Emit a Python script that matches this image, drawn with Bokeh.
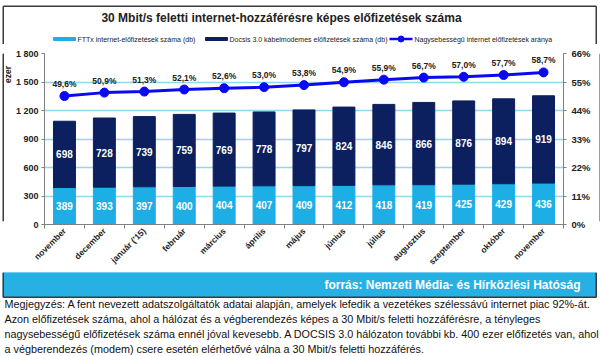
import math
from bokeh.plotting import figure
from bokeh.layouts import column, row
from bokeh.models import Range1d, LinearAxis, FixedTicker, ColumnDataSource
from bokeh.core.properties import value
from bokeh.embed import file_html
from bokeh.resources import INLINE

categories = ["november", "december", "január ('15)", "február", "március", "április",
              "május", "június", "július", "augusztus", "szeptember", "október", "november"]
fttx = [389, 393, 397, 400, 404, 407, 409, 412, 418, 419, 425, 429, 436]
docsis = [698, 728, 739, 759, 769, 778, 797, 824, 846, 866, 876, 894, 919]
ratio = [49.6, 50.9, 51.3, 52.1, 52.6, 53.0, 53.8, 54.9, 55.9, 56.7, 57.0, 57.7, 58.7]
left_ticks = [0, 300, 600, 900, 1200, 1500, 1800]
right_ticks = [0, 11, 22, 33, 44, 55, 66]

title_text = "30 Mbit/s feletti internet-hozzáférésre képes előfizetések száma"
legend_texts = ["FTTx  internet-előfizetések száma (db)",
                "Docsis 3.0 kábelmodemes előfizetések száma (db)",
                "Nagysebességű internet előfizetések aránya"]
axis_title = "ezer"
source_text = "forrás: Nemzeti Média- és Hírközlési Hatóság"
notes = [
    "Megjegyzés: A fent nevezett adatszolgáltatók adatai alapján, amelyek lefedik a vezetékes szélessávú internet piac 92%-át.",
    "Azon előfizetések száma, ahol a hálózat és a végberendezés képes a 30 Mbit/s feletti hozzáférésre, a tényleges",
    "nagysebességű előfizetések száma ennél jóval kevesebb. A DOCSIS 3.0 hálózaton további kb. 400 ezer előfizetés van, ahol",
    "a végberendezés (modem) csere esetén elérhetővé válna a 30 Mbit/s feletti hozzáférés.",
]

FONT = "Liberation Sans"
FTTX_C = "#1eaee6"
DOCSIS_C = "#0c1f5e"
LINE_C = "#0a0af0"
GRID_C = "#8fd8f0"
BAND_C = "#27b0e4"
BORDER_C = "#3a3a3a"
TXT = "#222222"

W, H = 600, 356
BX0, BY0, BX1, BY1 = 2.75, 5.75, 595.75, 293.75   # outer border line centres
HEAD_BOTTOM = 44
STRIP_RIGHT = 12
RSTRIP_LEFT = 594
FL, FR, FT, FB = 40, 559, 53, 224       # plot frame
BAND_TOP = 269


def deco_fig(x0, x1, y0, y1, bg="white"):
    f = figure(width=int(x1 - x0), height=int(y1 - y0), output_backend="svg",
               toolbar_location=None, x_range=Range1d(x0, x1), y_range=Range1d(y1, y0),
               x_axis_type=None, y_axis_type=None, title=None,
               min_border=0, min_border_left=0, min_border_right=0,
               min_border_top=0, min_border_bottom=0)
    f.grid.visible = False
    f.outline_line_color = None
    f.background_fill_color = bg
    f.border_fill_color = bg
    return f


def border(f, xs0, ys0, xs1, ys1):
    f.segment(x0=xs0, y0=ys0, x1=xs1, y1=ys1, line_color=BORDER_C, line_width=1.5)


# ---------- header: title + legend ----------
head = deco_fig(0, W, 0, HEAD_BOTTOM)
border(head, [BX0, BX0, BX1], [BY0, BY0, BY0], [BX1, BX0, BX1], [BY0, HEAD_BOTTOM, HEAD_BOTTOM])
head.text(x=[281], y=[17], text=[title_text], text_align="center", text_baseline="middle",
          text_font=value(FONT), text_font_style="bold", text_font_size="12px",
          text_color=TXT)
leg_src = ColumnDataSource(dict(
    x0=[53, 205], x1=[75, 227], y0=[37, 37], y1=[40, 40], col=[FTTX_C, DOCSIS_C]))
head.quad(left="x0", right="x1", top="y0", bottom="y1", color="col", source=leg_src)
head.line(x=[389, 412], y=[38.5, 38.5], line_color=LINE_C, line_width=2.5)
head.scatter(x=[400.5], y=[38.5], size=6, fill_color=LINE_C, line_color=LINE_C)
head.text(x=[77, 229, 414], y=[38.8, 38.8, 38.8], text=legend_texts, text_baseline="middle",
          text_font=value(FONT), text_font_size="7px", text_color=TXT)

# ---------- side strips (y-axis title, border) ----------
strip = deco_fig(0, STRIP_RIGHT, HEAD_BOTTOM, BAND_TOP)
border(strip, [BX0], [HEAD_BOTTOM], [BX0], [BAND_TOP])
strip.text(x=[7.5], y=[72], text=[axis_title], angle=math.pi / 2, text_align="center",
           text_baseline="middle", text_font=value(FONT), text_font_style="bold",
           text_font_size="8.5px", text_color=TXT)
rstrip = deco_fig(RSTRIP_LEFT, W, HEAD_BOTTOM, BAND_TOP)
border(rstrip, [BX1], [HEAD_BOTTOM], [BX1], [BAND_TOP])

# ---------- main chart ----------
n = len(categories)
xs = list(range(n))
src = ColumnDataSource(dict(
    x=xs, fttx=fttx, tot=[f + d for f, d in zip(fttx, docsis)],
    fttx_mid=[f / 2 for f in fttx], docsis_mid=[f + d / 2 for f, d in zip(fttx, docsis)],
    fttx_lbl=[str(v) for v in fttx], docsis_lbl=[str(v) for v in docsis],
    ratio=ratio, ratio_lbl=[("%.1f%%" % r).replace(".", ",") for r in ratio],
))

p = figure(frame_width=FR - FL, frame_height=FB - FT, output_backend="svg",
           toolbar_location=None, x_range=Range1d(-0.5, n - 0.5), y_range=Range1d(0, 1800),
           title=None,
           min_border_left=FL - STRIP_RIGHT, min_border_right=RSTRIP_LEFT - FR,
           min_border_top=FT - HEAD_BOTTOM, min_border_bottom=BAND_TOP - FB)
p.background_fill_color = "white"
p.border_fill_color = "white"
p.outline_line_color = None
p.xgrid.visible = False
p.ygrid.grid_line_color = GRID_C
p.ygrid.grid_line_width = 1.3
p.ygrid.ticker = FixedTicker(ticks=left_ticks)
p.extra_y_ranges = {"pct": Range1d(0, 66)}


def style_axis(ax, size="9px"):
    ax.axis_label = None
    ax.axis_label_standoff = 0
    ax.major_label_text_font = FONT
    ax.major_label_text_font_style = "bold"
    ax.major_label_text_font_size = size
    ax.major_label_text_color = TXT
    ax.axis_line_color = "#808080"
    ax.major_tick_line_color = "#808080"
    ax.major_tick_out = 3
    ax.major_tick_in = 0
    ax.major_label_standoff = 3
    ax.minor_tick_line_color = None


ya = p.yaxis[0]
ya.ticker = FixedTicker(ticks=left_ticks)
ya.major_label_overrides = {v: f"{v:,}".replace(",", " ") for v in left_ticks}
style_axis(ya, "9px")

ra = LinearAxis(y_range_name="pct", ticker=FixedTicker(ticks=right_ticks))
ra.major_label_overrides = {v: f"{v}%" for v in right_ticks}
style_axis(ra, "9.5px")
ra.major_label_standoff = 5
p.add_layout(ra, "right")

xa = p.xaxis[0]
xa.ticker = FixedTicker(ticks=xs, minor_ticks=[i - 0.5 for i in range(n + 1)])
xa.major_label_overrides = {i: c for i, c in enumerate(categories)}
xa.major_label_orientation = math.pi / 4
style_axis(xa, "8.5px")
xa.major_tick_line_color = None
xa.major_tick_out = 0
xa.minor_tick_line_color = "#808080"
xa.minor_tick_out = 4
xa.minor_tick_in = 0
xa.major_label_standoff = 1

p.vbar(x="x", bottom=0, top="fttx", width=0.55, color=FTTX_C, source=src)
p.vbar(x="x", bottom="fttx", top="tot", width=0.55, color=DOCSIS_C, source=src)
for ycol, tcol in (("fttx_mid", "fttx_lbl"), ("docsis_mid", "docsis_lbl")):
    p.text(x="x", y=ycol, text=tcol, source=src, text_align="center",
           text_baseline="middle", text_color="white", text_font=value(FONT),
           text_font_style="bold", text_font_size="10px")

p.line(x="x", y="ratio", y_range_name="pct", source=src, line_color=LINE_C, line_width=3)
p.scatter(x="x", y="ratio", y_range_name="pct", source=src, size=9,
          fill_color=LINE_C, line_color=LINE_C)
p.text(x="x", y="ratio", y_range_name="pct", text="ratio_lbl", source=src,
       text_align="center", text_baseline="middle", y_offset=-12,
       text_color=TXT, text_font=value(FONT), text_font_style="bold",
       text_font_size="8.5px")

# ---------- footer: source band + notes ----------
foot = deco_fig(0, W, BAND_TOP, H)
foot.quad(left=[BX0], right=[BX1], top=[BAND_TOP], bottom=[BY1], color=BAND_C)
border(foot, [BX0, BX1, BX0], [BAND_TOP, BAND_TOP, BY1], [BX0, BX1, BX1], [BY1, BY1, BY1])
foot.text(x=[580], y=[281.5], text=[source_text], text_align="right", text_baseline="middle",
          text_font=value(FONT), text_font_style="bold", text_font_size="12px",
          text_color="white")
foot.text(x=[4] * len(notes), y=[300 + i * 15.3 for i in range(len(notes))], text=notes,
          text_baseline="middle", text_font=value(FONT), text_font_size="10.8px",
          text_color="#111111")

page = column(head, row(strip, p, rstrip, spacing=0), foot, spacing=0)
open("out.html", "w").write(file_html(page, INLINE))
